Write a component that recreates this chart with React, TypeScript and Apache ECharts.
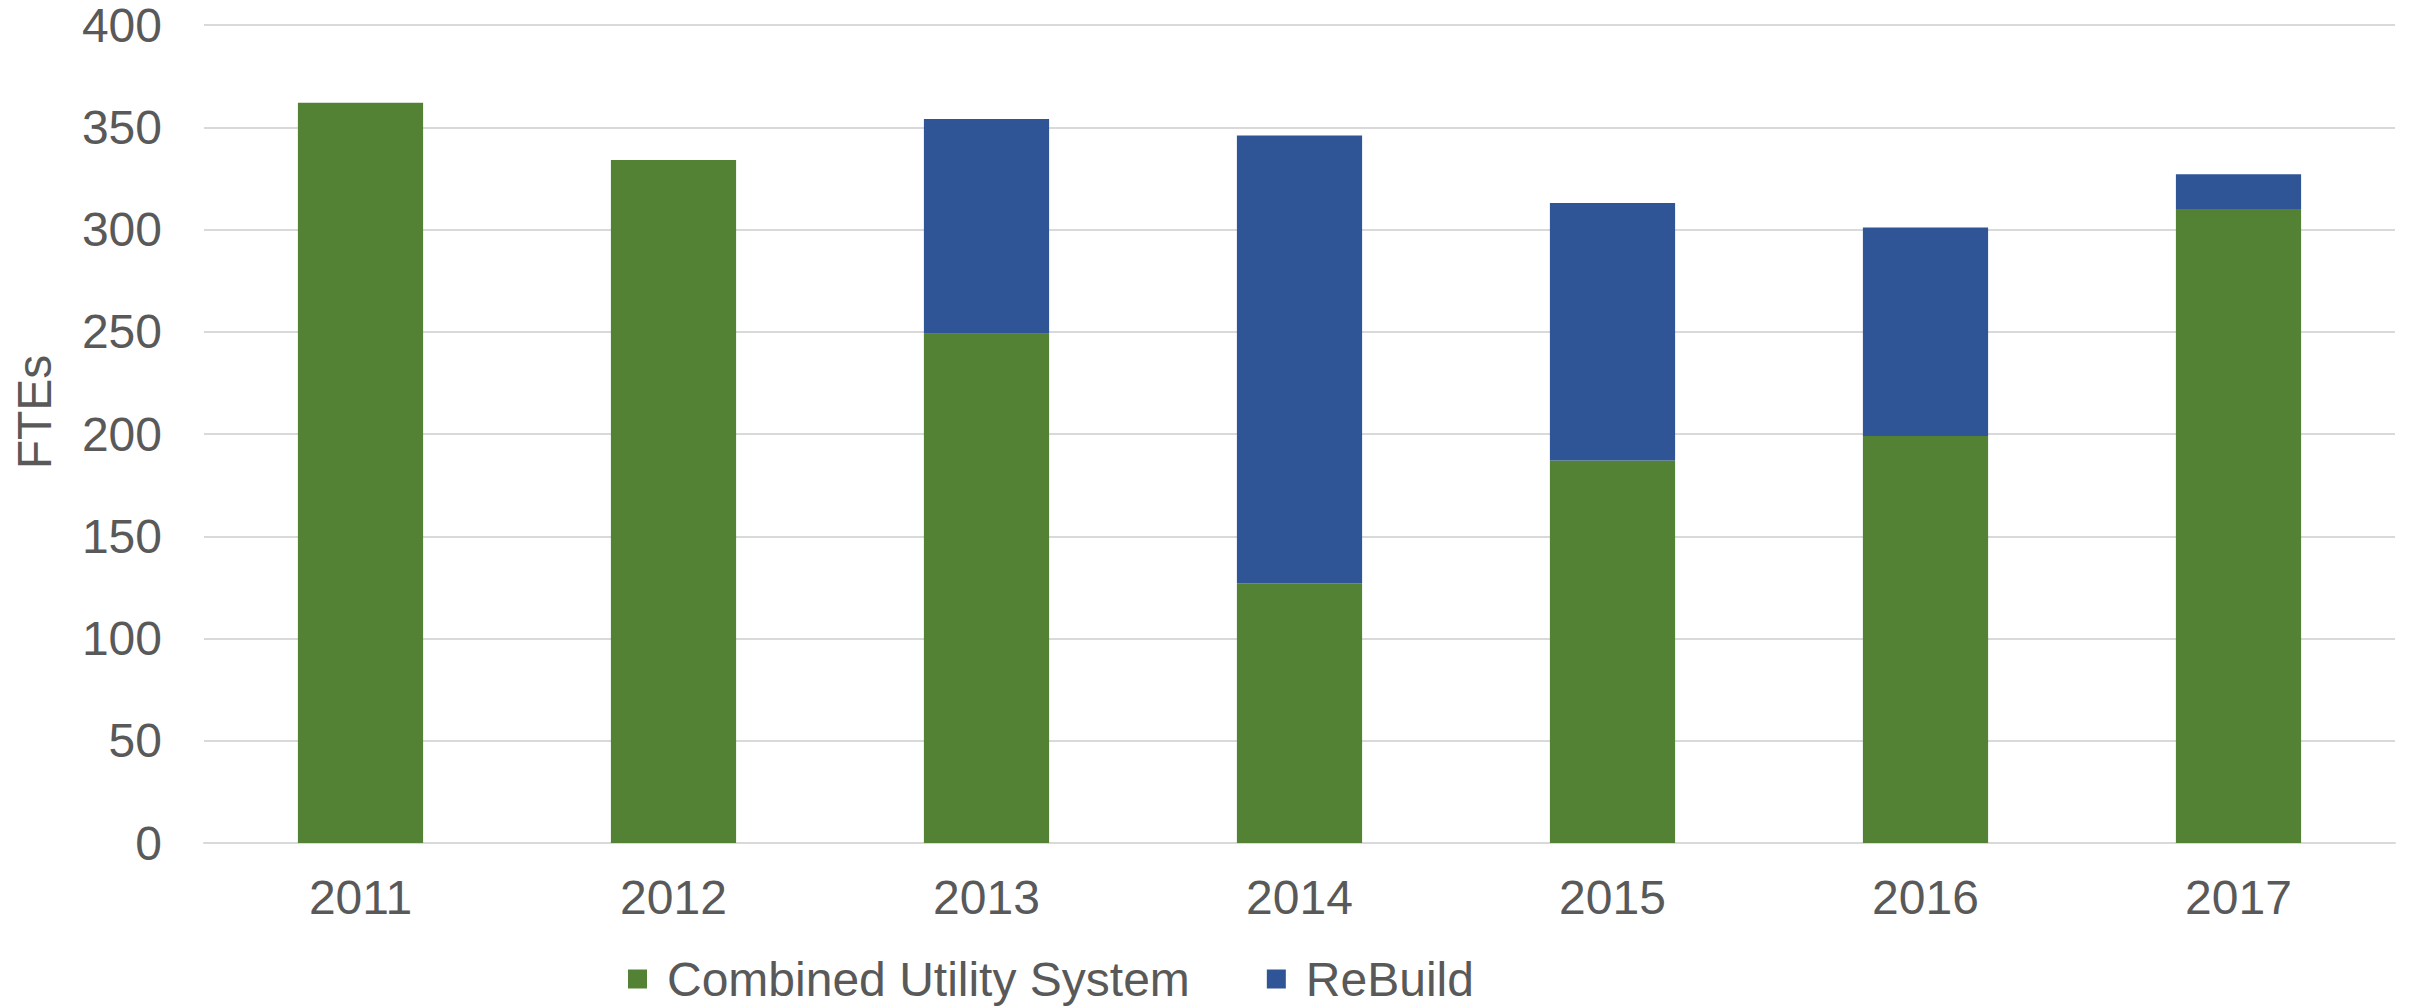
import React, { useEffect, useRef } from "react";
import * as echarts from "echarts";

const categories = ["2011", "2012", "2013", "2014", "2015", "2016", "2017"];
const combinedUtilitySystem = [362, 334, 249, 127, 187, 199, 310];
const reBuild = [0, 0, 105, 219, 126, 102, 17];
const yTicks = { min: 0, max: 400, interval: 50 };

const FONT = "'Liberation Sans', Arial, sans-serif";
const TEXT = "#595959";
const FS = 48;

export default function App() {
  const ref = useRef<HTMLDivElement>(null);
  useEffect(() => {
    if (!ref.current) return;
    const chart = echarts.init(ref.current, null, { renderer: "svg" });
    chart.setOption({
      animation: false,
      backgroundColor: "#ffffff",
      textStyle: { fontFamily: FONT },
      grid: { left: 204, right: 20, top: 25, bottom: 164, containLabel: false },
      legend: {
        left: 628,
        top: 955,
        padding: 0,
        itemWidth: 19,
        itemHeight: 19,
        itemGap: 77,
        icon: "rect",
        textStyle: {
          fontFamily: FONT,
          fontSize: FS,
          lineHeight: 48,
          color: TEXT,
          padding: [0, 0, 0, 15],
        },
        data: ["Combined Utility System", "ReBuild"],
      },
      xAxis: {
        type: "category",
        data: categories,
        axisTick: { show: false },
        axisLine: { lineStyle: { color: "#D9D9D9", width: 2 } },
        axisLabel: { fontFamily: FONT, fontSize: FS, color: TEXT, margin: 30 },
      },
      yAxis: {
        type: "value",
        min: yTicks.min,
        max: yTicks.max,
        interval: yTicks.interval,
        axisLine: { show: false },
        axisTick: { show: false },
        splitLine: { lineStyle: { color: "#D9D9D9", width: 2 } },
        axisLabel: { fontFamily: FONT, fontSize: FS, color: TEXT, margin: 42 },
      },
      graphic: [
        {
          type: "text",
          x: 34,
          y: 412,
          rotation: Math.PI / 2,
          style: {
            text: "FTEs",
            fontFamily: FONT,
            fontSize: FS,
            fill: TEXT,
            textAlign: "center",
            textVerticalAlign: "middle",
          },
        },
      ],
      series: [
        {
          name: "Combined Utility System",
          type: "bar",
          stack: "total",
          data: combinedUtilitySystem,
          barCategoryGap: "60%",
          itemStyle: { color: "#548235" },
        },
        {
          name: "ReBuild",
          type: "bar",
          stack: "total",
          data: reBuild,
          barCategoryGap: "60%",
          itemStyle: { color: "#2F5597" },
        },
      ],
    });
    return () => chart.dispose();
  }, []);
  return (
    <div
      ref={ref}
      style={{ position: "fixed", left: 0, top: 0, width: 2415, height: 1007 }}
    />
  );
}
